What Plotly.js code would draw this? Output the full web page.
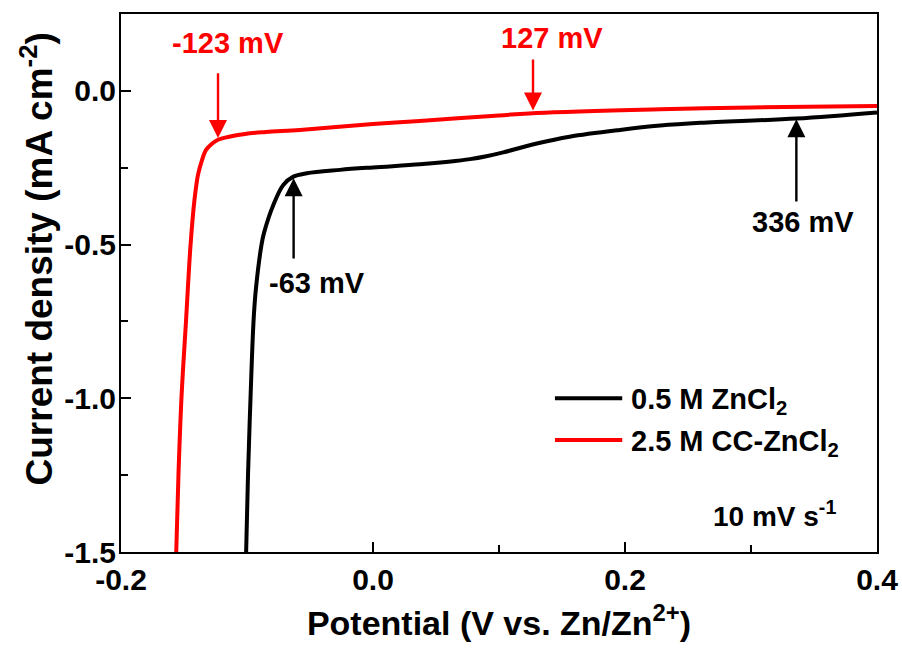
<!DOCTYPE html>
<html>
<head>
<meta charset="utf-8">
<script src="https://cdn.plot.ly/plotly-3.0.1.min.js"></script>
<style>html,body{margin:0;padding:0;background:#fff;}#chart{width:902px;height:648px;}</style>
</head>
<body>
<div id="chart"></div>
<script>
// ---- data ----
const blackName = "0.5 M ZnCl<sub>2</sub>";
const redName = "2.5 M CC-ZnCl<sub>2</sub>";
const blackColor = "#000000";
const redColor = "#ff0000";

const blackX = [-0.1008, -0.0992, -0.0972, -0.0948, -0.093, -0.0885, -0.0865, -0.0791, -0.0712, -0.0632, -0.0526, -0.0262, 0.0, 0.0373, 0.06, 0.077, 0.09, 0.1034, 0.117, 0.13, 0.156, 0.196, 0.228, 0.26, 0.336, 0.4];
const blackY = [-1.52, -1.249, -0.998, -0.748, -0.647, -0.501, -0.462, -0.371, -0.306, -0.279, -0.268, -0.257, -0.249, -0.239, -0.2305, -0.222, -0.2125, -0.200, -0.185, -0.171, -0.149, -0.127, -0.113, -0.104, -0.090, -0.070];

const redX = [-0.1563, -0.1544, -0.152, -0.1484, -0.1448, -0.1417, -0.1389, -0.1357, -0.1325, -0.1278, -0.123, -0.1151, -0.1016, -0.085, -0.058, 0.0, 0.037, 0.1, 0.13, 0.228, 0.3, 0.4];
const redY = [-1.52, -1.249, -0.998, -0.748, -0.501, -0.355, -0.273, -0.225, -0.192, -0.172, -0.159, -0.150, -0.140, -0.134, -0.127, -0.108, -0.098, -0.080, -0.072, -0.060, -0.054, -0.049];

const xTickVals = [-0.2, 0.0, 0.2, 0.4];
const xTickText = ["-0.2", "0.0", "0.2", "0.4"];
const yTickVals = [-1.5, -1.0, -0.5, 0.0];
const yTickText = ["-1.5", "-1.0", "-0.5", "0.0"];

// onset markers
const markerX = [-0.123, 0.127, -0.063, 0.336];
const markerLabel = ["-123 mV", "127 mV", "-63 mV", "336 mV"];
const markerHeadY = [-0.153, -0.064, -0.284, -0.092];
const markerTailY = [0.062, 0.107, -0.55, -0.365];
const markerColor = [redColor, redColor, blackColor, blackColor];
const markerLabelX = [-0.1151, 0.142, -0.0444, 0.341];
const markerLabelY = [0.156, 0.172, -0.625, -0.428];

const rateText = "10 mV s<sup>-1</sup>";
const xTitle = "Potential (V vs. Zn/Zn<sup>2+</sup>)";
const yTitle = "Current density (mA cm<sup>-2</sup>)";

// ---- chart ----
const FONT = "Liberation Sans, Arial, sans-serif";

const traces = [
  {x: blackX, y: blackY, name: blackName, type: "scatter", mode: "lines", showlegend: false,
   line: {color: blackColor, width: 4, shape: "spline", smoothing: 1}},
  {x: redX, y: redY, name: redName, type: "scatter", mode: "lines", showlegend: false,
   line: {color: redColor, width: 4, shape: "spline", smoothing: 1}}
];

const annotations = [];
for (let i = 0; i < markerX.length; i++) {
  annotations.push({
    x: markerX[i], y: markerHeadY[i], xref: "x", yref: "y",
    ax: markerX[i], ay: markerTailY[i], axref: "x", ayref: "y",
    text: "", showarrow: true, arrowhead: 2, arrowsize: 1.5, arrowwidth: 2.4,
    arrowcolor: markerColor[i], standoff: 0, startstandoff: 0
  });
  annotations.push({
    x: markerLabelX[i], y: markerLabelY[i], xref: "x", yref: "y",
    text: "<b>" + markerLabel[i] + "</b>", showarrow: false,
    font: {family: FONT, size: 29, color: markerColor[i]},
    xanchor: "center", yanchor: "middle"
  });
}
annotations.push({
  x: 0.319, y: -1.375, xref: "x", yref: "y",
  text: "<b>" + rateText + "</b>", showarrow: false,
  font: {family: FONT, size: 28, color: "#000"}, xanchor: "center", yanchor: "middle"
});

// y-axis title
annotations.push({
  x: 0, y: 0.5437, xref: "paper", yref: "paper", xshift: -84,
  text: "<b>" + yTitle + "</b>", showarrow: false, textangle: -90,
  font: {family: FONT, size: 37, color: "#000"}, xanchor: "center", yanchor: "middle"
});

// legend (drawn as key lines + labels)
const legendNames = [blackName, redName];
const legendColors = [blackColor, redColor];
const legendRowY = [0.286, 0.208];
const shapes = [];
for (let i = 0; i < legendNames.length; i++) {
  shapes.push({type: "line", xref: "paper", yref: "paper",
    x0: 0.574, x1: 0.663, y0: legendRowY[i], y1: legendRowY[i],
    line: {color: legendColors[i], width: 4}});
  annotations.push({
    x: 0.672, y: legendRowY[i], xref: "paper", yref: "paper",
    text: "<b>" + legendNames[i] + "</b>", showarrow: false,
    font: {family: FONT, size: 29, color: "#000"},
    xanchor: "left", yanchor: "middle", yshift: -3
  });
}

const axisCommon = {
  showline: true, linecolor: "#000", linewidth: 2, mirror: true,
  ticks: "inside", ticklen: 10, tickwidth: 2, tickcolor: "#000",
  showgrid: false, zeroline: false,
  tickfont: {family: FONT, size: 30, color: "#000", weight: "bold"}
};

const layout = {
  width: 902, height: 648,
  margin: {l: 121, r: 25, t: 14, b: 96},
  paper_bgcolor: "#fff", plot_bgcolor: "#fff",
  showlegend: false,
  xaxis: Object.assign({}, axisCommon, {
    range: [-0.2, 0.4], tickvals: xTickVals, ticktext: xTickText,
    minor: {dtick: 0.1, tick0: 0, ticks: "inside", ticklen: 7, tickwidth: 2, tickcolor: "#000"},
    title: {text: "<b>" + xTitle + "</b>", standoff: 16,
            font: {family: FONT, size: 34, color: "#000"}}
  }),
  yaxis: Object.assign({}, axisCommon, {
    range: [-1.5, 0.25], tickvals: yTickVals, ticktext: yTickText,
    ticklabelstandoff: -3,
    minor: {dtick: 0.25, tick0: 0, ticks: "inside", ticklen: 7, tickwidth: 2, tickcolor: "#000"}
  }),
  shapes: shapes,
  annotations: annotations
};

Plotly.newPlot("chart", traces, layout, {displayModeBar: false, staticPlot: true});
</script>
</body>
</html>
